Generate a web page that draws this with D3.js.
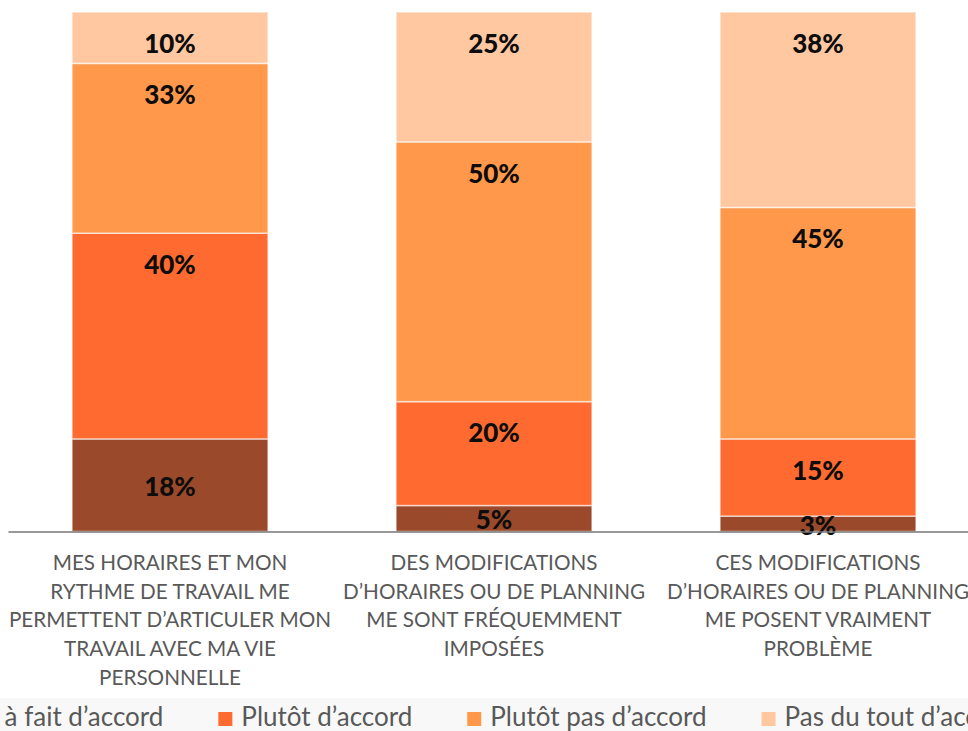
<!DOCTYPE html>
<html>
<head>
<meta charset="utf-8">
<script src="https://cdn.jsdelivr.net/npm/d3@7"></script>
<style>
  body { margin: 0; background: #fff; }
  svg { display: block; }
</style>
</head>
<body>
<svg class="graphique"></svg>
<script>

//Données
const categories = [
  "MES HORAIRES ET MON\nRYTHME DE TRAVAIL ME\nPERMETTENT D’ARTICULER MON\nTRAVAIL AVEC MA VIE\nPERSONNELLE",
  "DES MODIFICATIONS\nD’HORAIRES OU DE PLANNING\nME SONT FRÉQUEMMENT\nIMPOSÉES",
  "CES MODIFICATIONS\nD’HORAIRES OU DE PLANNING\nME POSENT VRAIMENT\nPROBLÈME"
];
const series = ["Tout à fait d’accord", "Plutôt d’accord", "Plutôt pas d’accord", "Pas du tout d’accord"];
const toutAFait = [18, 5, 3];
const plutot = [40, 20, 15];
const plutotPas = [33, 50, 45];
const pasDuTout = [10, 25, 38];
const couleurs = ["#9a4a2a", "#fe6a30", "#ff984b", "#ffc8a1"];

let w = 968, h = 731;

let svg = d3.select(".graphique")
  .attr("width", w)
  .attr("height", h);

//Tableau pour d3.stack
let valeurs = [toutAFait, plutot, plutotPas, pasDuTout];
let table = categories.map((c, i) => {
  let ligne = {cat: i};
  series.forEach((s, j) => { ligne[s] = valeurs[j][i]; });
  return ligne;
});

let pile = d3.stack()
  .keys(series)
  .offset(d3.stackOffsetExpand)(table);

let x = d3.scaleBand()
  .domain(d3.range(categories.length))
  .range([8, 980])
  .paddingInner(0.395)
  .paddingOuter(0.1975);

let y = d3.scaleLinear()
  .domain([0, 1])
  .range([531.5, 12]);

let color = d3.scaleOrdinal()
  .domain(series)
  .range(couleurs);

//Barres empilées
let groupes = svg.append("g")
  .selectAll("g")
  .data(pile)
  .enter()
  .append("g")
  .style("fill", d => color(d.key));

groupes.selectAll("rect")
  .data(d => d)
  .enter()
  .append("rect")
  .attr("x", d => x(d.data.cat))
  .attr("y", d => y(d[1]))
  .attr("width", x.bandwidth())
  .attr("height", d => y(d[0]) - y(d[1]))
  .style("stroke", "rgba(255,255,255,0.6)")
  .style("stroke-width", 1.5);

//Etiquettes : série du bas centrée, les autres en haut du segment
pile.forEach((s, j) => {
  svg.append("g")
    .selectAll("text")
    .data(s)
    .enter()
    .append("text")
    .attr("x", d => x(d.data.cat) + x.bandwidth() / 2)
    .attr("y", d => j === 0 ? (y(d[0]) + y(d[1])) / 2 + 1.5 : y(d[1]) + 31.5)
    .attr("dy", "0.36em")
    .attr("text-anchor", "middle")
    .style("font-family", "Lato")
    .style("font-weight", "900")
    .style("font-size", "26px")
    .style("fill", "#0d0d0d")
    .text(d => valeurs[j][d.data.cat] + "%");
});

//Axe
let axe = svg.append("g")
  .attr("transform", `translate(0,${y(0)})`)
  .call(d3.axisBottom(x).tickSize(0).tickFormat(""));
axe.select(".domain")
  .style("stroke", "#767676")
  .style("stroke-width", 1.5);

//Libellés des catégories
let libelles = svg.append("g")
  .selectAll("text")
  .data(categories)
  .enter()
  .append("text")
  .attr("text-anchor", "middle")
  .style("font-family", "Lato")
  .style("font-size", "20.7px")
  .style("fill", "#595959");

libelles.selectAll("tspan")
  .data((d, i) => d.split("\n").map(l => ({l: l, i: i})))
  .enter()
  .append("tspan")
  .attr("x", d => x(d.i) + x.bandwidth() / 2)
  .attr("y", (d, k) => 570 + k * 28.7)
  .text(d => d.l);

//Légende
svg.append("rect")
  .attr("x", 0)
  .attr("y", 698)
  .attr("width", w)
  .attr("height", h - 698)
  .style("fill", "#f8f8f8");

let legende = svg.append("g")
  .selectAll("g")
  .data(series)
  .enter()
  .append("g");

legende.append("rect")
  .attr("y", 712)
  .attr("width", 14)
  .attr("height", 14)
  .style("fill", d => color(d));

legende.append("text")
  .attr("x", 23)
  .attr("y", 726)
  .style("font-family", "Lato")
  .style("font-size", "26px")
  .style("fill", "#595959")
  .text(d => d);

//Placement des entrées, centrées
let largeurs = [];
legende.each(function() {
  largeurs.push(23 + d3.select(this).select("text").node().getComputedTextLength());
});
let ecart = 55;
let total = d3.sum(largeurs) + ecart * (largeurs.length - 1);
let depart = 470 - total / 2;
legende.attr("transform", (d, i) => {
  let pos = depart + d3.sum(largeurs.slice(0, i)) + ecart * i;
  return `translate(${pos},0)`;
});

</script>
</body>
</html>
